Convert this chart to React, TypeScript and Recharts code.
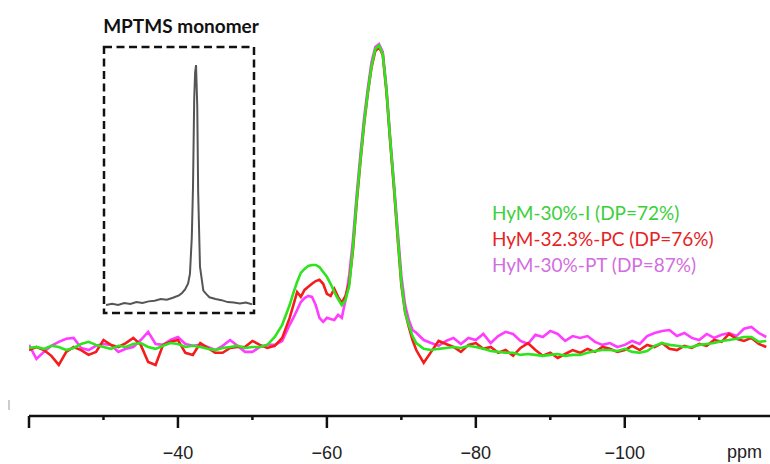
import React from 'react'
import { LineChart, Line, XAxis, YAxis, Legend } from 'recharts'

// chemical shift (ppm); finer steps across the T2/T3 region
const ppm = [
  -20, -21, -22, -23, -24, -25, -26, -27, -28, -29, -30, -31, -32, -33, -34, -35, -36, -37,
  -38, -39, -40, -41, -42, -43, -44, -45, -46, -47, -48, -49, -50, -51, -52, -53, -54, -55,
  -55.5, -56, -56.5, -57, -57.5, -58, -58.5, -59, -59.5, -60, -60.5, -61, -61.5, -62, -62.5,
  -63, -63.5, -64, -64.5, -65, -65.5, -66, -66.5, -67, -67.5, -68, -68.5, -69, -69.5, -70,
  -70.5, -71, -71.5, -72,
  -73, -74, -75, -76, -77, -78, -79, -80, -81, -82, -83, -84, -85, -86, -87, -88, -89, -90,
  -91, -92, -93, -94, -95, -96, -97, -98, -99, -100, -101, -102, -103, -104, -105, -106,
  -107, -108, -109, -110, -111, -112, -113, -114, -115, -116, -117, -118, -119,
]

const hym30I = [
  0, 0.3, -0.3, 0.7, 0.3, -0.7, 0, 1.3, 2.0, 1.0, 0.3, -0.3, 0.7, 0.3, 1.3, 1.6, 0.3, -0.3,
  0.7, 1.6, 1.3, 0.3, 0.7, 0.3, -0.3, -0.7, 0, 0.3, 0.7, 0, 0.3, 0.3, 1.0, 3.6, 7.6, 14.1,
  18.1, 21.7, 24.7, 26.0, 27.0, 27.3, 27.3, 26.6, 25.0, 23.4, 21.1, 18.4, 16.1, 14.1, 15.8,
  20.4, 33.2, 48.7, 61.8, 74.3, 84.2, 92.8, 98.4, 99.5, 96.7, 84.9, 68.4, 53.6, 37.2, 21.4,
  11.8, 7.6, 3.9, 1.6,
  -0.3, -0.7, -0.3, 0, 0.3, 0, 0.7, 0.3, -0.3, -1.0, -1.3, -1.6, -1.6, -2.3, -2.0, -2.3, -2.6,
  -2.3, -2.0, -2.6, -2.3, -2.3, -1.6, -1.0, -0.7, -0.7, -1.0, -0.3, -1.3, -1.6, -1.0, 0.7, 1.6,
  1.0, 0.7, 0.3, 0.3, 1.0, 1.3, 1.6, 2.3, 2.6, 3.0, 3.6, 3.6, 2.0, 2.3,
]

const hym323PC = [
  -0.7, 0.3, -0.7, -2.6, -5.6, -1.3, 0.3, -0.7, -2.3, -1.3, 2.6, 1.0, 0.3, 1.6, 3.3, 1.0, -4.6,
  -5.6, 1.0, 2.0, 2.6, -1.6, -2.3, 1.6, 0, -1.6, -1.6, 0, 0.3, 0.3, 2.3, 1.0, 0, 0.7, 3.3, 9.9,
  14.1, 18.4, 16.8, 19.1, 20.1, 21.1, 22.0, 22.4, 21.1, 17.8, 17.1, 19.4, 16.8, 14.8, 17.1,
  21.4, 32.2, 47.7, 61.2, 73.7, 83.9, 92.4, 97.7, 99.0, 96.4, 84.2, 67.8, 52.6, 36.2, 20.7,
  11.8, 6.9, 2.6, -0.7,
  -4.9, -1.3, 2.3, 1.3, 0.3, -1.3, 1.0, 1.6, -0.3, 0.3, -1.6, -0.7, -2.6, 0, 1.6, -0.7, -2.6,
  -1.6, -3.3, -2.0, -0.7, -1.6, -0.3, -1.3, 0.3, -0.3, -1.3, -0.7, 0.7, -0.7, 1.0, 0.3, 1.6,
  -0.3, -0.7, 0.7, 0, 1.3, 0.7, 2.6, 2.0, 4.6, 3.0, 2.3, 3.3, 1.3, 0.3,
]

const hym30PT = [
  1.0, -3.6, -1.3, 0.7, 2.0, 3.0, 3.3, 0, -0.7, 0.7, 1.3, 1.0, -1.3, -0.3, 0.3, 2.6, 5.3, 1.3,
  1.0, 2.6, 3.6, 1.3, 0.7, 1.0, 0.3, -0.7, 0.7, 2.6, 0.7, -1.3, -1.3, 0.3, 1.0, 1.0, 2.3, 7.6,
  9.9, 12.5, 15.1, 16.4, 17.1, 16.8, 14.1, 9.9, 8.6, 9.9, 9.5, 9.2, 10.9, 9.9, 15.8, 24.0, 35.5,
  50.3, 63.5, 75.7, 85.5, 94.1, 99.0, 100, 97.4, 85.5, 69.1, 54.3, 38.8, 23.7, 14.1, 9.2, 5.9,
  5.0,
  2.6, 1.6, 0.7, 2.3, 3.3, 1.3, 3.3, 2.6, 4.6, 1.6, 3.9, 5.3, 4.6, 2.3, 1.3, 4.3, 3.6, 5.6, 4.6,
  2.3, 3.9, 3.3, 3.9, 2.0, 1.0, 1.6, 0.3, 1.0, 2.3, 1.3, 3.9, 4.9, 5.6, 5.9, 3.9, 4.9, 3.3, 2.6,
  4.6, 3.3, 4.3, 4.9, 3.9, 6.3, 6.9, 4.9, 3.6,
]

const xTicks = [-20, -30, -40, -50, -60, -70, -80, -90, -100, -110]

// inset: MPTMS monomer
const monomerPpm = [
  -30, -31, -32, -33, -34, -35, -36, -37, -38, -39, -40, -41, -42, -42.5, -43, -43.5, -43.8,
  -44.1, -44.3, -44.5, -44.65, -44.8, -45, -45.15, -45.45, -46, -46.5, -47, -48, -49, -50, -51,
  -52, -53, -54,
]
const monomerInt = [
  0, 0.5, 0, 0.8, 0.4, 1.2, 0.8, 1.5, 1.8, 2.5, 2.2, 3.0, 4.0, 5.0, 6.5, 9, 13, 28, 49, 86, 97,
  100, 83, 47, 16, 6, 4.5, 3.2, 2.5, 2.0, 1.2, 1.0, 0.6, 1.0, 0.3,
]

const series = [
  { key: 'pt', name: 'HyM-30%-PT (DP=87%)', stroke: '#ff3cff', text: '#d26ee0' },
  { key: 'pc', name: 'HyM-32.3%-PC (DP=76%)', stroke: '#f51c1c', text: '#e6231f' },
  { key: 'i', name: 'HyM-30%-I (DP=72%)', stroke: '#2ee41f', text: '#3ccf3a' },
]

const data = ppm.map((p, i) => ({ ppm: p, i: hym30I[i], pc: hym323PC[i], pt: hym30PT[i] }))
const monomerData = monomerPpm.map((p, i) => ({ ppm: p, v: monomerInt[i] }))

const PpmTick = (props: any) => {
  const { x, y, payload } = props
  const v = payload.value
  const major = v % 20 === 0
  return (
    <g>
      <line x1={x} x2={x} y1={y} y2={y + (major ? 12 : 4)} stroke="#111" strokeWidth={2.5} />
      {major && v !== -20 && (
        <text x={x} y={y + 43} textAnchor="middle" fontSize={18} fill="#222"
          fontFamily="'Liberation Sans', Arial, sans-serif">
          {'\u2212' + Math.abs(v)}
        </text>
      )}
    </g>
  )
}

const PpmLabel = (props: any) => {
  const vb = props.viewBox || {}
  return (
    <text x={vb.x + vb.width - 8} y={vb.y + 42} textAnchor="end" fontSize={18} fill="#222"
      fontFamily="'Liberation Sans', Arial, sans-serif">
      ppm
    </text>
  )
}

const LegendText = () => (
  <div style={{ fontFamily: 'Lato, sans-serif', fontSize: 19, lineHeight: '26px', whiteSpace: 'nowrap' }}>
    {[...series].reverse().map(s => (
      <div key={s.key} style={{ color: s.text }}>{s.name}</div>
    ))}
  </div>
)

export default function App() {
  return (
    <div style={{ position: 'absolute', left: 0, top: 0, width: 770, height: 464, background: '#fff' }}>
      <LineChart width={770} height={464} data={data} margin={{ top: 20, right: 0, bottom: 0, left: 29 }}>
        <XAxis
          dataKey="ppm"
          type="number"
          domain={[-119.5, -20]}
          reversed
          allowDataOverflow
          ticks={xTicks}
          interval={0}
          tick={<PpmTick />}
          tickLine={false}
          tickSize={0}
          tickMargin={0}
          height={48}
          axisLine={{ stroke: '#111', strokeWidth: 2.5 }}
          label={<PpmLabel />}
        />
        <YAxis hide domain={[-22.4, 107.9]} allowDataOverflow />
        <Legend
          layout="vertical"
          align="center"
          verticalAlign="middle"
          content={<LegendText />}
          wrapperStyle={{ left: 492, top: 200, width: 260 }}
        />
        {series.map(s => (
          <Line key={s.key} type="linear" dataKey={s.key} name={s.name} stroke={s.stroke}
            strokeWidth={2.6} dot={false} isAnimationActive={false} />
        ))}
      </LineChart>

      <div style={{ position: 'absolute', left: 106, top: 50 }}>
        <LineChart width={146} height={260} data={monomerData} margin={{ top: 0, right: 0, bottom: 0, left: 0 }}>
          <XAxis hide dataKey="ppm" type="number" domain={[-54, -30]} reversed />
          <YAxis hide domain={[-2.1, 106.3]} allowDataOverflow />
          <Line type="linear" dataKey="v" stroke="#555" strokeWidth={2} dot={false} isAnimationActive={false} />
        </LineChart>
      </div>

      <svg width={770} height={464} style={{ position: 'absolute', left: 0, top: 0, pointerEvents: 'none' }}>
        <rect x={104} y={47} width={150} height={266} fill="none" stroke="#111" strokeWidth={2.5}
          strokeDasharray="8 4.5" />
        <text x={181} y={33} textAnchor="middle" fontFamily="Lato, sans-serif" fontWeight="bold"
          fontSize={19} fill="#111">
          MPTMS monomer
        </text>
        <line x1={9} x2={9} y1={400} y2={410} stroke="#999" strokeWidth={1} />
      </svg>
    </div>
  )
}
